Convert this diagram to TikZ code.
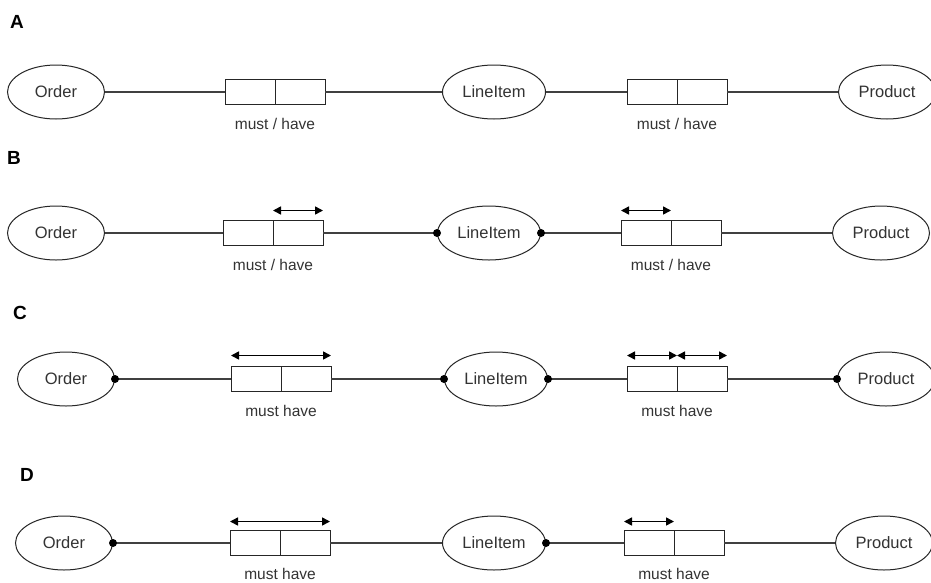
\documentclass[tikz,border=0pt]{standalone}
\usepackage{fontspec}
\setmainfont{Liberation Sans}
\usetikzlibrary{arrows.meta,shapes.geometric}
\begin{document}
\begin{tikzpicture}[x=1pt,y=-1pt,
  every node/.style={text=black!80},
  entity/.style={draw=black!85,line width=1pt,ellipse,minimum width=97pt,minimum height=54pt,inner sep=0pt,font=\fontsize{16.5}{18}\selectfont},
  wide/.style={minimum width=103pt},
  cell/.style={draw=black!85,line width=1pt,rectangle,minimum width=50pt,minimum height=25pt,inner sep=0pt,outer sep=0pt},
  link/.style={draw=black!75,line width=1.1pt},
  caption/.style={font=\fontsize{15.5}{17}\selectfont},
  panel/.style={font=\fontsize{19}{22}\selectfont\bfseries,text=black},
  dot/.style={circle,fill=black,inner sep=0pt,minimum size=8pt},
  span/.style={<->,>={Triangle[length=8pt,width=8pt]},line width=1.6pt,black}]
\useasboundingbox (0,0) rectangle (931,582);
\fill[white] (0,0) rectangle (931,582);

% ---------- A ----------
\node[panel] (pa) at (17,22) {A};
\node[entity] (oa) at (56,92) {Order};
\node[entity,wide] (la) at (494,92) {LineItem};
\node[entity] (pra) at (887,92) {Product};
\node[cell] (a1l) at (250,92) {};
\node[cell] (a1r) at (300,92) {};
\node[cell] (a2l) at (652,92) {};
\node[cell] (a2r) at (702,92) {};
\node[caption] (ca1) at (275,124) {must / have};
\node[caption] (ca2) at (677,124) {must / have};
\draw[link] (oa) -- (a1l.west);
\draw[link] (a1r.east) -- (la);
\draw[link] (la) -- (a2l.west);
\draw[link] (a2r.east) -- (pra);

% ---------- B ----------
\node[panel] (pb) at (14,158) {B};
\node[entity] (ob) at (56,233) {Order};
\node[entity,wide] (lb) at (489,233) {LineItem};
\node[entity] (prb) at (881,233) {Product};
\node[cell] (b1l) at (248,233) {};
\node[cell] (b1r) at (298,233) {};
\node[cell] (b2l) at (646,233) {};
\node[cell] (b2r) at (696,233) {};
\node[caption] (cb1) at (273,265) {must / have};
\node[caption] (cb2) at (671,265) {must / have};
\draw[link] (ob) -- (b1l.west);
\draw[link] (b1r.east) -- (lb);
\draw[link] (lb) -- (b2l.west);
\draw[link] (b2r.east) -- (prb);
\node[dot] (db1) at (lb.west) {};
\node[dot] (db2) at (lb.east) {};
\draw[span] ([yshift=10pt]b1r.north west) -- ([yshift=10pt]b1r.north east);
\draw[span] ([yshift=10pt]b2l.north west) -- ([yshift=10pt]b2l.north east);

% ---------- C ----------
\node[panel] (pc) at (20,313) {C};
\node[entity] (oc) at (66,379) {Order};
\node[entity,wide] (lc) at (496,379) {LineItem};
\node[entity] (prc) at (886,379) {Product};
\node[cell] (c1l) at (256,379) {};
\node[cell] (c1r) at (306,379) {};
\node[cell] (c2l) at (652,379) {};
\node[cell] (c2r) at (702,379) {};
\node[caption] (cc1) at (281,411) {must have};
\node[caption] (cc2) at (677,411) {must have};
\draw[link] (oc) -- (c1l.west);
\draw[link] (c1r.east) -- (lc);
\draw[link] (lc) -- (c2l.west);
\draw[link] (c2r.east) -- (prc);
\node[dot] (dc1) at (oc.east) {};
\node[dot] (dc2) at (lc.west) {};
\node[dot] (dc3) at (lc.east) {};
\node[dot] (dc4) at (prc.west) {};
\draw[span] ([yshift=11pt]c1l.north west) -- ([yshift=11pt]c1r.north east);
\draw[span] ([yshift=11pt]c2l.north west) -- ([yshift=11pt]c2l.north east);
\draw[span] ([yshift=11pt]c2r.north west) -- ([yshift=11pt]c2r.north east);

% ---------- D ----------
\node[panel] (pd) at (27,475) {D};
\node[entity] (od) at (64,543) {Order};
\node[entity,wide] (ld) at (494,543) {LineItem};
\node[entity] (prd) at (884,543) {Product};
\node[cell] (d1l) at (255,543) {};
\node[cell] (d1r) at (305,543) {};
\node[cell] (d2l) at (649,543) {};
\node[cell] (d2r) at (699,543) {};
\node[caption] (cd1) at (280,574) {must have};
\node[caption] (cd2) at (674,574) {must have};
\draw[link] (od) -- (d1l.west);
\draw[link] (d1r.east) -- (ld);
\draw[link] (ld) -- (d2l.west);
\draw[link] (d2r.east) -- (prd);
\node[dot] (dd1) at (od.east) {};
\node[dot] (dd2) at (ld.east) {};
\draw[span] ([yshift=9pt]d1l.north west) -- ([yshift=9pt]d1r.north east);
\draw[span] ([yshift=9pt]d2l.north west) -- ([yshift=9pt]d2l.north east);
\end{tikzpicture}
\end{document}
